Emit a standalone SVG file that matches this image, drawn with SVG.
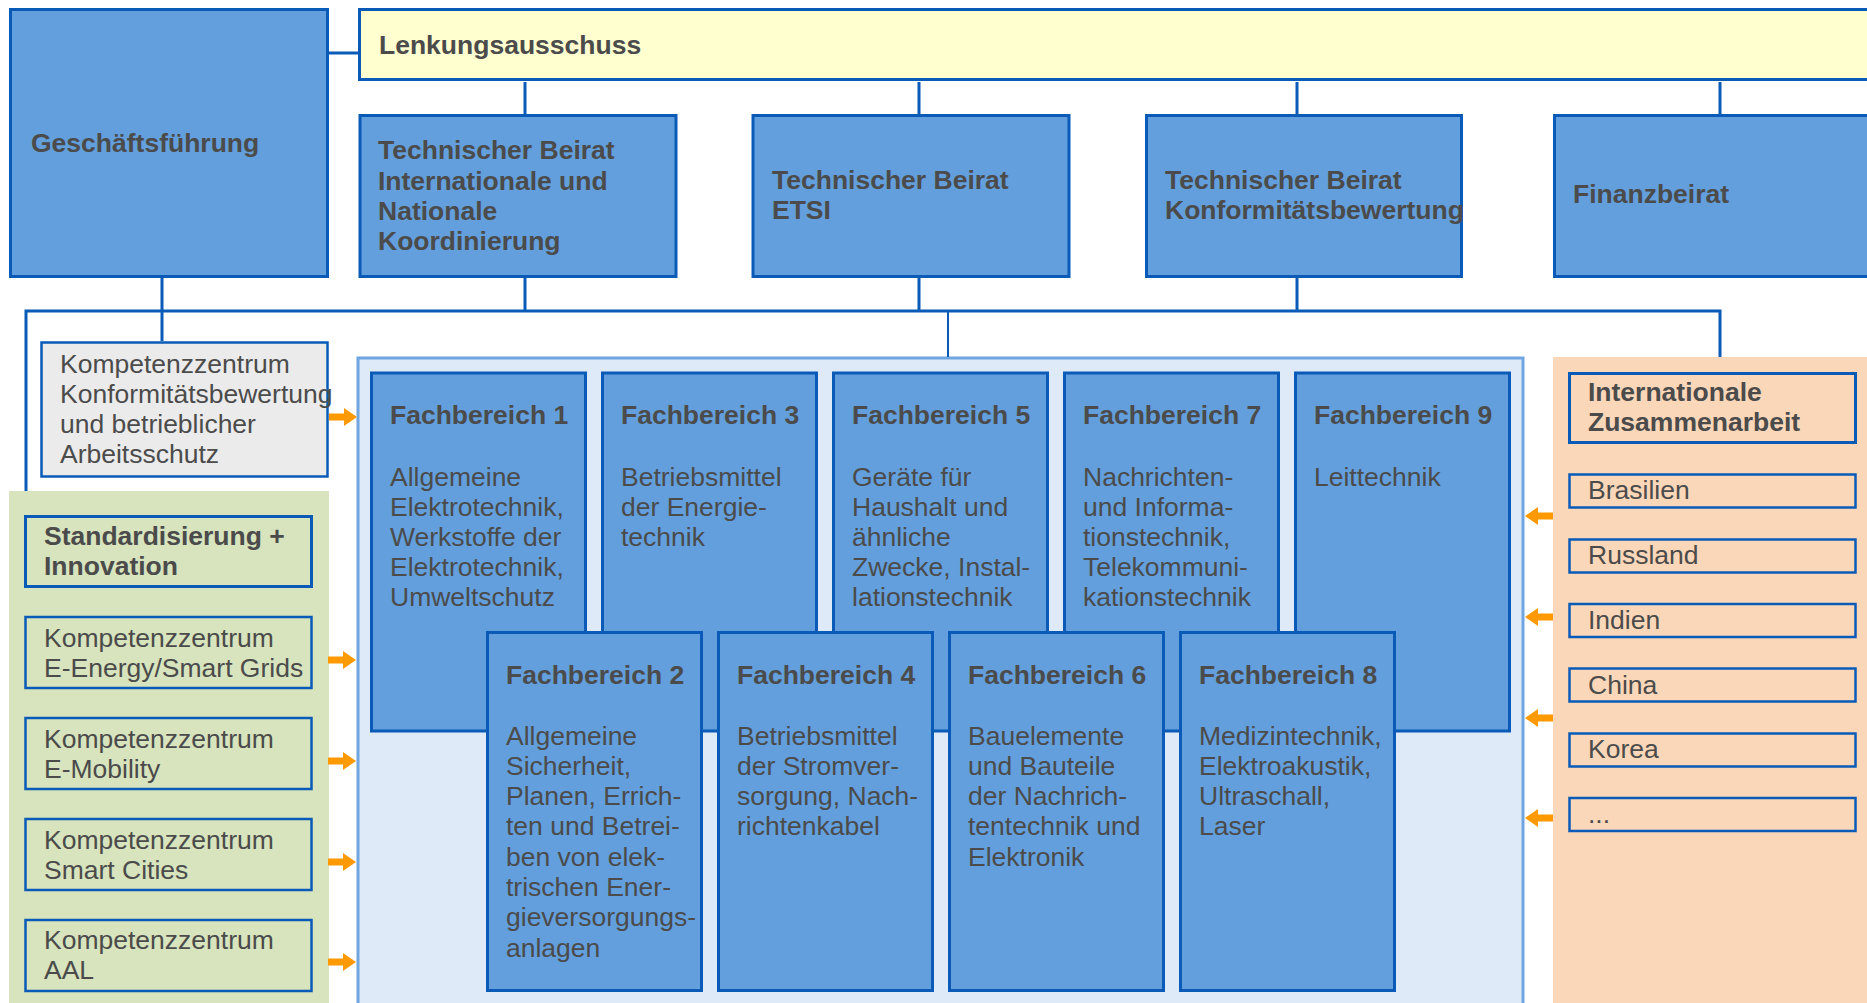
<svg xmlns="http://www.w3.org/2000/svg" xmlns:xlink="http://www.w3.org/1999/xlink" width="1867" height="1003" viewBox="0 0 1867 1003">
<defs>
<style>
.t{font-family:"Liberation Sans",Arial,Helvetica,sans-serif;font-size:26.5px;fill:#4b4b4b}
.b{font-weight:bold}
.blue{fill:#639fdc;stroke:#0a5bb7;stroke-width:3}
.line{stroke:#0a5bb7;stroke-width:3;fill:none}
.thin{stroke:#0a5bb7;stroke-width:2;fill:none}
.grn{fill:#d7e4bd;stroke:#0a5bb7;stroke-width:2.5}
.org{fill:#fbd7b9;stroke:#0a5bb7;stroke-width:2.5}
.arr{fill:#ff9900}
</style>
<path id="arrowR" d="M0,-3.5 H15 V-9 L28,0 L15,9 V3.5 H0 Z"/>
<path id="arrowL" d="M28,-3.5 H13 V-9 L0,0 L13,9 V3.5 H28 Z"/>
</defs>
<rect x="0" y="0" width="1867" height="1003" fill="#ffffff"/>

<!-- panels -->
<g id="panel-green"><rect x="9" y="491" width="320" height="520" fill="#d7e4bd"/></g>
<g id="panel-orange"><rect x="1553" y="357" width="320" height="660" fill="#fbd7b9"/></g>
<g id="panel-fachbereiche"><rect x="358" y="358" width="1165" height="660" fill="#dfeaf8" stroke="#6fa6e2" stroke-width="3"/></g>

<!-- connectors -->
<g id="connectors">
<line class="line" x1="329" y1="53" x2="358" y2="53"/>
<line class="line" x1="525" y1="82" x2="525" y2="114"/>
<line class="line" x1="919" y1="82" x2="919" y2="114"/>
<line class="line" x1="1297" y1="82" x2="1297" y2="114"/>
<line class="line" x1="1720" y1="82" x2="1720" y2="114"/>
<line class="line" x1="525" y1="278" x2="525" y2="311"/>
<line class="line" x1="919" y1="278" x2="919" y2="311"/>
<line class="line" x1="1297" y1="278" x2="1297" y2="311"/>
<line class="line" x1="162" y1="278" x2="162" y2="341"/>
<polyline class="line" points="26,491 26,311 1720,311 1720,357"/>
<line class="thin" x1="948" y1="311" x2="948" y2="357"/>
<use xlink:href="#arrowR" class="arr" x="329" y="417"/>
<use xlink:href="#arrowR" class="arr" x="328" y="660"/>
<use xlink:href="#arrowR" class="arr" x="328" y="761"/>
<use xlink:href="#arrowR" class="arr" x="328" y="862"/>
<use xlink:href="#arrowR" class="arr" x="328" y="962"/>
<use xlink:href="#arrowL" class="arr" x="1525" y="516"/>
<use xlink:href="#arrowL" class="arr" x="1525" y="617"/>
<use xlink:href="#arrowL" class="arr" x="1525" y="718"/>
<use xlink:href="#arrowL" class="arr" x="1525" y="818"/>
</g>

<!-- top level -->
<g id="geschaeftsfuehrung">
<rect class="blue" x="10.5" y="9.5" width="317" height="267"/>
<text class="t b" x="31" y="152">Geschäftsführung</text>
</g>
<g id="lenkungsausschuss">
<rect x="359.5" y="9.5" width="1520" height="70" fill="#ffffd0" stroke="#0a5bb7" stroke-width="3"/>
<text class="t b" x="379" y="54">Lenkungsausschuss</text>
</g>
<g id="tb-international">
<rect class="blue" x="360" y="115.5" width="316" height="161"/>
<text class="t b" x="378" y="159">Technischer Beirat</text>
<text class="t b" x="378" y="190">Internationale und</text>
<text class="t b" x="378" y="220">Nationale</text>
<text class="t b" x="378" y="250">Koordinierung</text>
</g>
<g id="tb-etsi">
<rect class="blue" x="753" y="115.5" width="316" height="161"/>
<text class="t b" x="772" y="189">Technischer Beirat</text>
<text class="t b" x="772" y="219">ETSI</text>
</g>
<g id="tb-konformitaet">
<rect class="blue" x="1146.5" y="115.5" width="315" height="161"/>
<text class="t b" x="1165" y="189">Technischer Beirat</text>
<text class="t b" x="1165" y="219">Konformitätsbewertung</text>
</g>
<g id="finanzbeirat">
<rect class="blue" x="1554.5" y="115.5" width="400" height="161"/>
<text class="t b" x="1573" y="203">Finanzbeirat</text>
</g>

<!-- Kompetenzzentrum Konformität -->
<g id="kz-konformitaet">
<rect x="41.5" y="342.5" width="286" height="134" fill="#ebebeb" stroke="#0a5bb7" stroke-width="2.5"/>
<text class="t" x="60" y="373">Kompetenzzentrum</text>
<text class="t" x="60" y="403">Konformitätsbewertung</text>
<text class="t" x="60" y="433">und betrieblicher</text>
<text class="t" x="60" y="463">Arbeitsschutz</text>
</g>

<!-- green column -->
<g id="standardisierung">
<rect x="25.5" y="516.5" width="286" height="70" fill="#d7e4bd" stroke="#0a5bb7" stroke-width="3"/>
<text class="t b" x="44" y="545">Standardisierung +</text>
<text class="t b" x="44" y="575">Innovation</text>
</g>
<g id="kz-energy">
<rect class="grn" x="25.5" y="617" width="286" height="71"/>
<text class="t" x="44" y="647">Kompetenzzentrum</text>
<text class="t" x="44" y="677">E-Energy/Smart Grids</text>
</g>
<g id="kz-mobility">
<rect class="grn" x="25.5" y="718" width="286" height="71"/>
<text class="t" x="44" y="748">Kompetenzzentrum</text>
<text class="t" x="44" y="778">E-Mobility</text>
</g>
<g id="kz-smartcities">
<rect class="grn" x="25.5" y="819" width="286" height="71"/>
<text class="t" x="44" y="849">Kompetenzzentrum</text>
<text class="t" x="44" y="879">Smart Cities</text>
</g>
<g id="kz-aal">
<rect class="grn" x="25.5" y="920" width="286" height="71"/>
<text class="t" x="44" y="949">Kompetenzzentrum</text>
<text class="t" x="44" y="979">AAL</text>
</g>

<!-- Fachbereiche top row -->
<g id="fb1">
<rect class="blue" x="371.5" y="373" width="214" height="358"/>
<text class="t b" x="390" y="424">Fachbereich 1</text>
<text class="t" x="390" y="486">Allgemeine</text>
<text class="t" x="390" y="516">Elektrotechnik,</text>
<text class="t" x="390" y="546">Werkstoffe der</text>
<text class="t" x="390" y="576">Elektrotechnik,</text>
<text class="t" x="390" y="606">Umweltschutz</text>
</g>
<g id="fb3">
<rect class="blue" x="602.5" y="373" width="214" height="358"/>
<text class="t b" x="621" y="424">Fachbereich 3</text>
<text class="t" x="621" y="486">Betriebsmittel</text>
<text class="t" x="621" y="516">der Energie-</text>
<text class="t" x="621" y="546">technik</text>
</g>
<g id="fb5">
<rect class="blue" x="833.5" y="373" width="214" height="358"/>
<text class="t b" x="852" y="424">Fachbereich 5</text>
<text class="t" x="852" y="486">Geräte für</text>
<text class="t" x="852" y="516">Haushalt und</text>
<text class="t" x="852" y="546">ähnliche</text>
<text class="t" x="852" y="576">Zwecke, Instal-</text>
<text class="t" x="852" y="606">lationstechnik</text>
</g>
<g id="fb7">
<rect class="blue" x="1064.5" y="373" width="214" height="358"/>
<text class="t b" x="1083" y="424">Fachbereich 7</text>
<text class="t" x="1083" y="486">Nachrichten-</text>
<text class="t" x="1083" y="516">und Informa-</text>
<text class="t" x="1083" y="546">tionstechnik,</text>
<text class="t" x="1083" y="576">Telekommuni-</text>
<text class="t" x="1083" y="606">kationstechnik</text>
</g>
<g id="fb9">
<rect class="blue" x="1295.5" y="373" width="214" height="358"/>
<text class="t b" x="1314" y="424">Fachbereich 9</text>
<text class="t" x="1314" y="486">Leittechnik</text>
</g>

<!-- Fachbereiche bottom row -->
<g id="fb2">
<rect class="blue" x="487.5" y="632.5" width="214" height="358"/>
<text class="t b" x="506" y="684">Fachbereich 2</text>
<text class="t" x="506" y="745">Allgemeine</text>
<text class="t" x="506" y="775">Sicherheit,</text>
<text class="t" x="506" y="805">Planen, Errich-</text>
<text class="t" x="506" y="835">ten und Betrei-</text>
<text class="t" x="506" y="866">ben von elek-</text>
<text class="t" x="506" y="896">trischen Ener-</text>
<text class="t" x="506" y="926">gieversorgungs-</text>
<text class="t" x="506" y="957">anlagen</text>
</g>
<g id="fb4">
<rect class="blue" x="718.5" y="632.5" width="214" height="358"/>
<text class="t b" x="737" y="684">Fachbereich 4</text>
<text class="t" x="737" y="745">Betriebsmittel</text>
<text class="t" x="737" y="775">der Stromver-</text>
<text class="t" x="737" y="805">sorgung, Nach-</text>
<text class="t" x="737" y="835">richtenkabel</text>
</g>
<g id="fb6">
<rect class="blue" x="949.5" y="632.5" width="214" height="358"/>
<text class="t b" x="968" y="684">Fachbereich 6</text>
<text class="t" x="968" y="745">Bauelemente</text>
<text class="t" x="968" y="775">und Bauteile</text>
<text class="t" x="968" y="805">der Nachrich-</text>
<text class="t" x="968" y="835">tentechnik und</text>
<text class="t" x="968" y="866">Elektronik</text>
</g>
<g id="fb8">
<rect class="blue" x="1180.5" y="632.5" width="214" height="358"/>
<text class="t b" x="1199" y="684">Fachbereich 8</text>
<text class="t" x="1199" y="745">Medizintechnik,</text>
<text class="t" x="1199" y="775">Elektroakustik,</text>
<text class="t" x="1199" y="805">Ultraschall,</text>
<text class="t" x="1199" y="835">Laser</text>
</g>

<!-- orange column -->
<g id="internationale-zusammenarbeit">
<rect x="1569.5" y="373.5" width="286" height="69" fill="#fbd7b9" stroke="#0a5bb7" stroke-width="3"/>
<text class="t b" x="1588" y="401">Internationale</text>
<text class="t b" x="1588" y="431">Zusammenarbeit</text>
</g>
<g id="brasilien">
<rect class="org" x="1569.5" y="474.5" width="286" height="33"/>
<text class="t" x="1588" y="499">Brasilien</text>
</g>
<g id="russland">
<rect class="org" x="1569.5" y="539.5" width="286" height="33"/>
<text class="t" x="1588" y="564">Russland</text>
</g>
<g id="indien">
<rect class="org" x="1569.5" y="604" width="286" height="33"/>
<text class="t" x="1588" y="629">Indien</text>
</g>
<g id="china">
<rect class="org" x="1569.5" y="668.5" width="286" height="33"/>
<text class="t" x="1588" y="694">China</text>
</g>
<g id="korea">
<rect class="org" x="1569.5" y="733.5" width="286" height="33"/>
<text class="t" x="1588" y="758">Korea</text>
</g>
<g id="weitere">
<rect class="org" x="1569.5" y="798" width="286" height="33"/>
<text class="t" x="1588" y="823">...</text>
</g>
</svg>
